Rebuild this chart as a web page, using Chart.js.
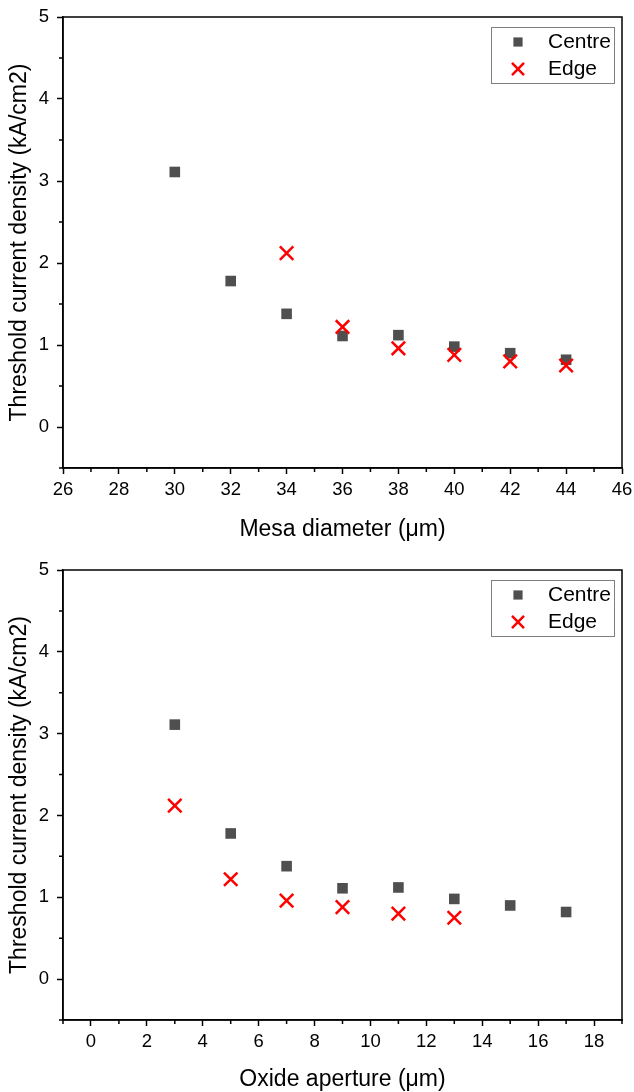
<!DOCTYPE html>
<html>
<head>
<meta charset="utf-8">
<script src="https://cdn.jsdelivr.net/npm/chart.js@4.4.1/dist/chart.umd.min.js"></script>
<style>
  body { margin: 0; background: #fff; }
  .box { position: absolute; left: 0; width: 634px; height: 546px; }
</style>
</head>
<body>
<div class="box" style="top:0"><canvas id="mesaChart" width="634" height="546"></canvas></div>
<div class="box" style="top:546px"><canvas id="oxideChart" width="634" height="546"></canvas></div>
<script>
// data
const mesaDiameter = [30, 32, 34, 36, 38, 40, 42, 44];
const mesaCentre = [3.11, 1.78, 1.38, 1.11, 1.12, 0.98, 0.90, 0.82];
const mesaEdgeX = [34, 36, 38, 40, 42, 44];
const mesaEdge = [2.12, 1.22, 0.96, 0.88, 0.80, 0.75];

const oxideAperture = [3, 5, 7, 9, 11, 13, 15, 17];
const oxideCentre = [3.11, 1.78, 1.38, 1.11, 1.12, 0.98, 0.90, 0.82];
const oxideEdgeX = [3, 5, 7, 9, 11, 13];
const oxideEdge = [2.12, 1.22, 0.96, 0.88, 0.80, 0.75];

const mesaTicks = [26, 28, 30, 32, 34, 36, 38, 40, 42, 44, 46];
const oxideTicks = [0, 2, 4, 6, 8, 10, 12, 14, 16, 18];
const yTicks = [0, 1, 2, 3, 4, 5];

const FONT = '"Liberation Sans", Arial, sans-serif';

function toPoints(xs, ys) {
  return xs.map((x, i) => ({ x: x, y: ys[i] }));
}

// minor ticks half way between the labelled ones
function minorValues(scale) {
  const t = scale.ticks.map(k => k.value);
  const step = t[1] - t[0];
  const out = [];
  for (let v = t[0] - step / 2; v >= scale.min - 1e-9; v -= step) out.push(v);
  for (let i = 0; i < t.length - 1; i++) out.push(t[i] + step / 2);
  for (let v = t[t.length - 1] + step / 2; v <= scale.max + 1e-9; v += step) out.push(v);
  return out;
}

// box frame, minor ticks and the boxed legend
const decor = {
  id: 'decor',
  afterDraw(chart) {
    const { ctx, chartArea: a, scales: { x, y } } = chart;
    ctx.save();
    ctx.strokeStyle = '#000';
    ctx.lineWidth = 1.5;
    ctx.strokeRect(a.left, a.top, a.right - a.left, a.bottom - a.top);

    ctx.beginPath();
    minorValues(x).forEach(v => {
      const px = x.getPixelForValue(v);
      ctx.moveTo(px, a.bottom);
      ctx.lineTo(px, a.bottom + 4);
    });
    minorValues(y).forEach(v => {
      const py = y.getPixelForValue(v);
      ctx.moveTo(a.left, py);
      ctx.lineTo(a.left - 4, py);
    });
    ctx.stroke();

    // legend
    const w = 123, h = 56;
    const left = a.right - 8 - w, top = a.top + 10;
    ctx.strokeStyle = '#808080';
    ctx.lineWidth = 1;
    ctx.strokeRect(left + 0.5, top + 0.5, w, h);
    ctx.font = '21px ' + FONT;
    ctx.textBaseline = 'middle';
    ctx.textAlign = 'left';
    chart.data.datasets.forEach((ds, i) => {
      const cy = top + 15 + i * 27;
      ctx.save();
      ctx.fillStyle = ds.backgroundColor;
      ctx.strokeStyle = ds.borderColor;
      ctx.lineWidth = ds.borderWidth;
      Chart.helpers.drawPoint(ctx, {
        pointStyle: ds.pointStyle,
        radius: ds.pointRadius - 1,
        borderWidth: ds.borderWidth,
        rotation: 0
      }, left + 27, cy);
      ctx.restore();
      ctx.fillStyle = '#000';
      ctx.fillText(ds.label, left + 57, cy);
    });
    ctx.restore();
  }
};

function makeChart(id, opts) {
  return new Chart(document.getElementById(id), {
    type: 'scatter',
    data: {
      datasets: [{
        label: 'Centre',
        data: toPoints(opts.centreX, opts.centreY),
        pointStyle: 'rect',
        pointRadius: 7.5,
        backgroundColor: '#4f4f4f',
        borderColor: '#4f4f4f',
        borderWidth: 0,
        order: 1
      }, {
        label: 'Edge',
        data: toPoints(opts.edgeX, opts.edgeY),
        pointStyle: 'crossRot',
        pointRadius: 9.5,
        backgroundColor: '#ff0000',
        borderColor: '#ff0000',
        borderWidth: 2.5,
        order: 0
      }]
    },
    options: {
      responsive: false,
      animation: false,
      events: [],
      layout: { padding: { top: opts.top, right: 9, bottom: 0, left: 0 } },
      plugins: { legend: { display: false }, tooltip: { enabled: false } },
      scales: {
        x: {
          type: 'linear',
          min: opts.xMin,
          max: opts.xMax,
          afterBuildTicks: s => { s.ticks = opts.xTicks.map(v => ({ value: v })); },
          afterFit: s => { s.height = opts.xHeight; s.paddingLeft = 0; s.paddingRight = 0; },
          grid: { drawOnChartArea: false, tickLength: 6, tickColor: '#000', tickWidth: 1.5 },
          border: { color: '#000', width: 1.5 },
          ticks: { autoSkip: false, maxRotation: 0, padding: 5, color: '#000', font: { family: FONT, size: 18.5 } },
          title: { display: true, text: opts.xTitle, color: '#000', font: { family: FONT, size: 23 }, padding: { top: 0, bottom: opts.titlePad } }
        },
        y: {
          min: -0.5,
          max: 5,
          afterBuildTicks: s => { s.ticks = yTicks.map(v => ({ value: v })); },
          afterFit: s => { s.width = 63; s.paddingTop = 0; s.paddingBottom = 0; },
          grid: { drawOnChartArea: false, tickLength: 6, tickColor: '#000', tickWidth: 1.5 },
          border: { color: '#000', width: 1.5 },
          ticks: { padding: 8, color: '#000', font: { family: FONT, size: 18.5 } },
          title: { display: true, text: 'Threshold current density (kA/cm2)', color: '#000', font: { family: FONT, size: 23 }, padding: { top: 6, bottom: 0 } }
        }
      }
    },
    plugins: [decor]
  });
}

makeChart('mesaChart', {
  centreX: mesaDiameter, centreY: mesaCentre,
  edgeX: mesaEdgeX, edgeY: mesaEdge,
  xMin: 26, xMax: 46, xTicks: mesaTicks,
  xTitle: 'Mesa diameter (\u03bcm)',
  top: 17, xHeight: 78, titlePad: 3
});

makeChart('oxideChart', {
  centreX: oxideAperture, centreY: oxideCentre,
  edgeX: oxideEdgeX, edgeY: oxideEdge,
  xMin: -1, xMax: 19, xTicks: oxideTicks,
  xTitle: 'Oxide aperture (\u03bcm)',
  top: 24, xHeight: 72, titlePad: -1
});
</script>
</body>
</html>
